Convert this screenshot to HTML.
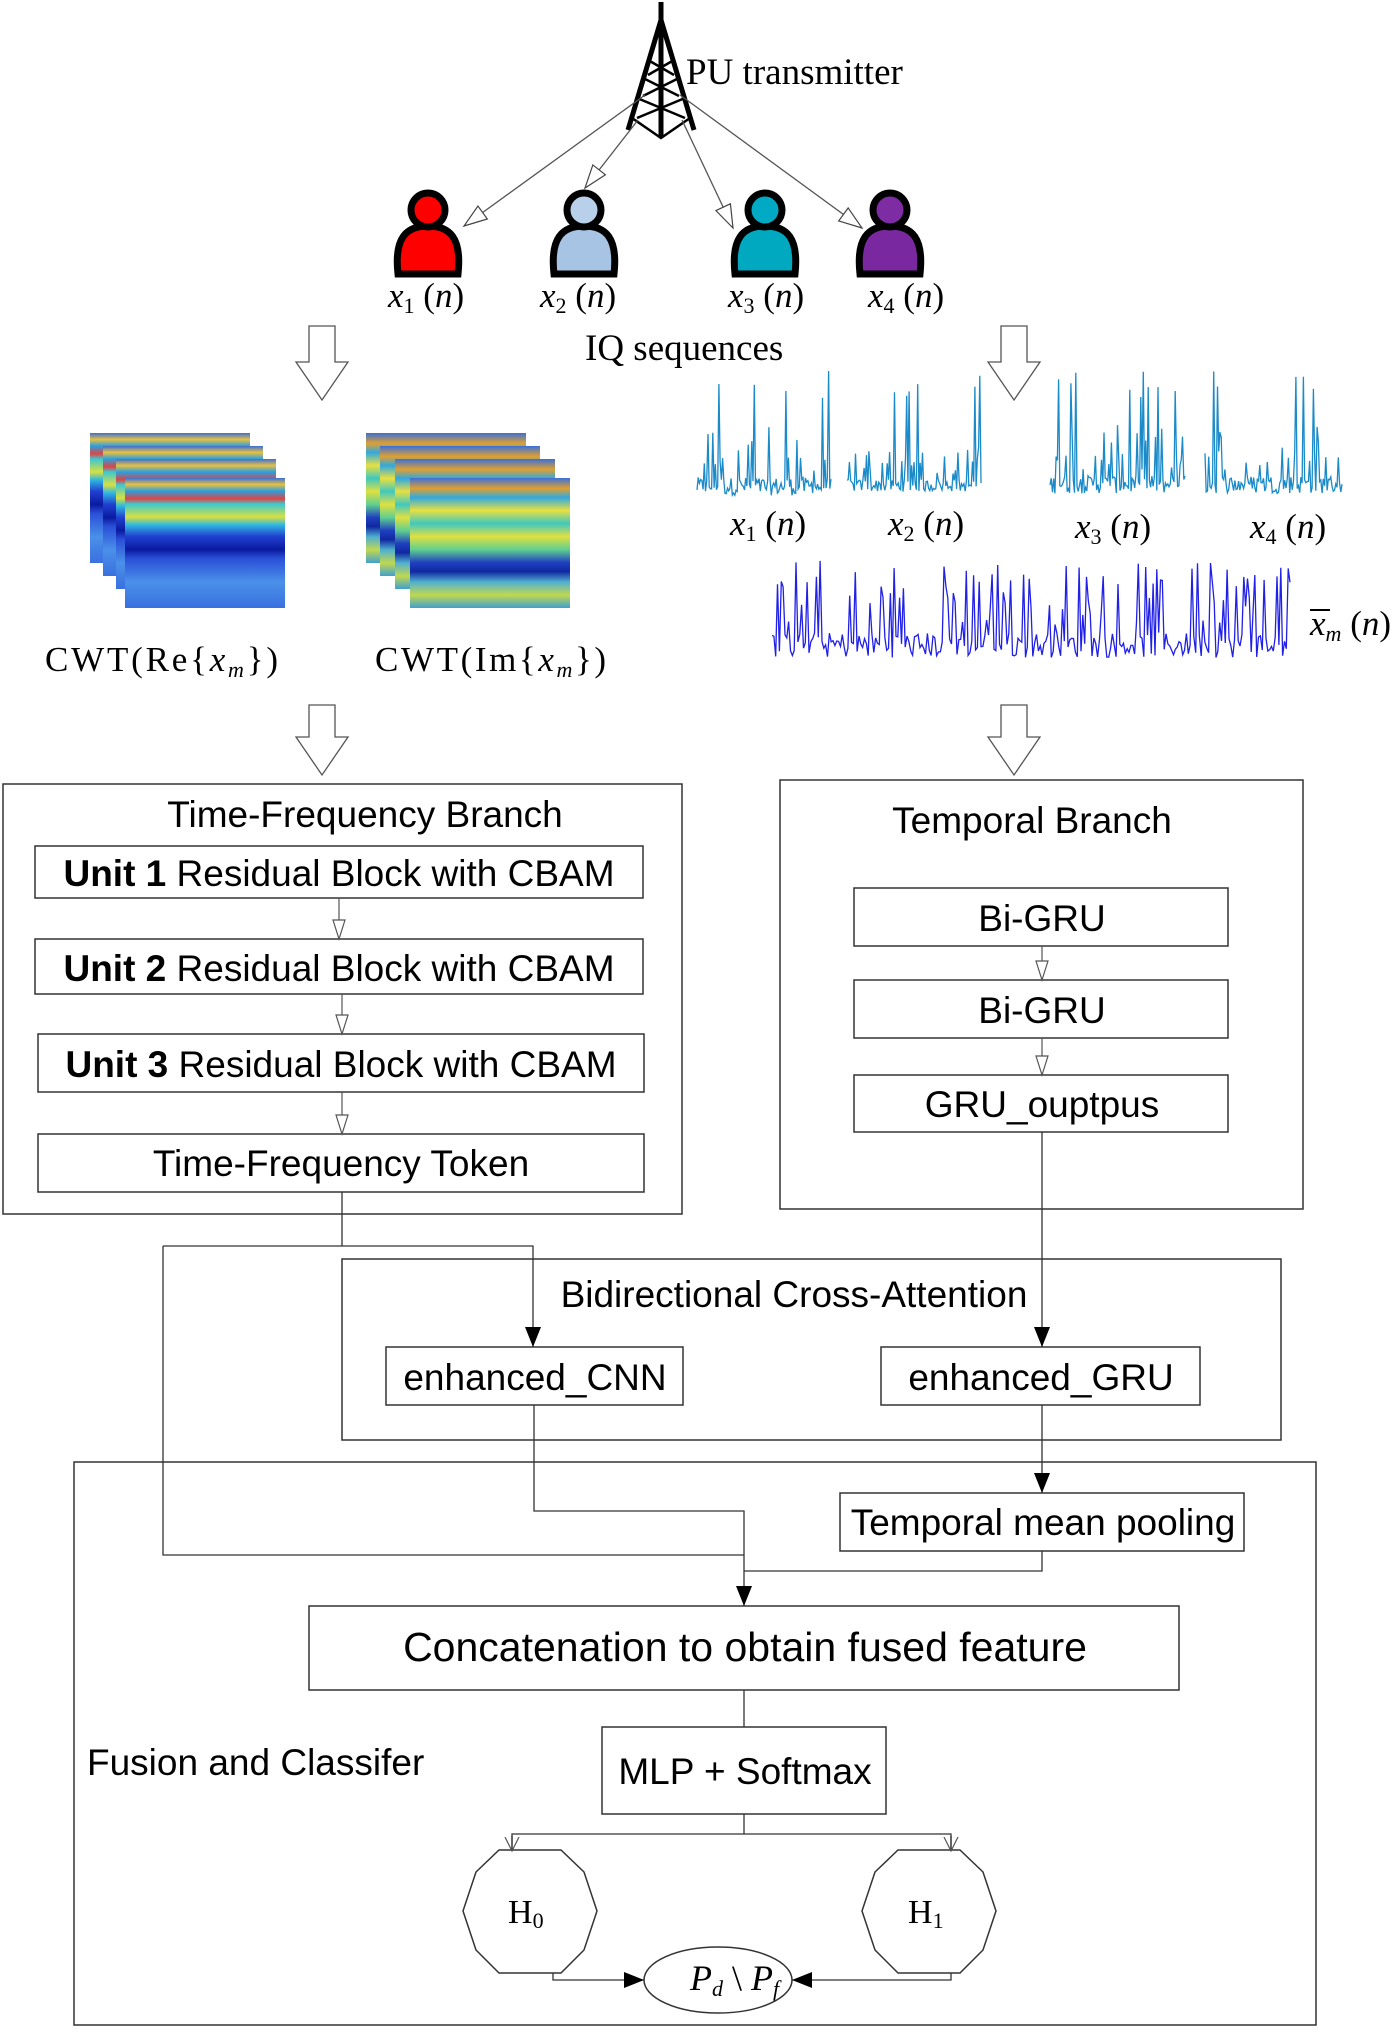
<!DOCTYPE html>
<html><head><meta charset="utf-8"><style>
html,body{margin:0;padding:0;background:#fff;}
svg text{font-family:"Liberation Sans",sans-serif;}
.s{font-family:"Liberation Serif",serif;}
</style></head><body>
<svg id="sv" width="1400" height="2028" viewBox="0 0 1400 2028" xmlns="http://www.w3.org/2000/svg">
<defs>
<marker id="fb" markerWidth="22" markerHeight="22" refX="20" refY="8" orient="auto" markerUnits="userSpaceOnUse" viewBox="0 0 22 16"><path d="M0,0 L20,8 L0,16 z" fill="#000"/></marker>
<marker id="ho" markerWidth="26" markerHeight="22" refX="24" refY="9" orient="auto" markerUnits="userSpaceOnUse" viewBox="0 0 26 18"><path d="M1,1 L24,9 L1,17 z" fill="#fff" stroke="#444" stroke-width="1.2"/></marker>
<marker id="hs" markerWidth="22" markerHeight="16" refX="20" refY="7" orient="auto" markerUnits="userSpaceOnUse" viewBox="0 0 22 14"><path d="M1,1 L20,7 L1,13 z" fill="#fff" stroke="#555" stroke-width="1.2"/></marker>
<marker id="vv" markerWidth="16" markerHeight="16" refX="14" refY="7" orient="auto" markerUnits="userSpaceOnUse" viewBox="0 0 16 14"><path d="M0,0 L14,7 L0,14" fill="none" stroke="#555" stroke-width="1.2"/></marker>
<linearGradient id="sp1" x1="0" y1="0" x2="0" y2="1">
<stop offset="0" stop-color="#3a6fd8"/><stop offset="0.05" stop-color="#e8c040"/><stop offset="0.1" stop-color="#2aa0e0"/><stop offset="0.16" stop-color="#d44"/><stop offset="0.2" stop-color="#3cc8d0"/><stop offset="0.3" stop-color="#d8e040"/><stop offset="0.36" stop-color="#30b8e0"/><stop offset="0.45" stop-color="#2040d0"/><stop offset="0.55" stop-color="#0a1aa0"/><stop offset="0.62" stop-color="#2a50d8"/><stop offset="0.8" stop-color="#4a90e8"/><stop offset="1" stop-color="#3a70e0"/></linearGradient>
<linearGradient id="sp2" x1="0" y1="0" x2="0" y2="1">
<stop offset="0" stop-color="#3a6fd8"/><stop offset="0.08" stop-color="#e0a030"/><stop offset="0.15" stop-color="#30a8e0"/><stop offset="0.25" stop-color="#e8e040"/><stop offset="0.35" stop-color="#40c8c0"/><stop offset="0.45" stop-color="#e0e040"/><stop offset="0.55" stop-color="#60d090"/><stop offset="0.65" stop-color="#2040c0"/><stop offset="0.72" stop-color="#1028a0"/><stop offset="0.8" stop-color="#50b0d0"/><stop offset="0.9" stop-color="#c0d850"/><stop offset="1" stop-color="#40a0d0"/></linearGradient>
</defs>

<!-- tower -->
<g stroke="#000" fill="none">
<line x1="661" y1="2" x2="661" y2="138" stroke-width="5"/>
<path d="M661,20 L628,130 M661,20 L694,130" stroke-width="5"/>
<path d="M648,60 L674,75 M674,60 L648,75 M643,78 L679,96 M679,78 L643,96 M637,98 L685,118 M685,98 L637,118 M632,118 L661,138 L690,118" stroke-width="2.5"/>
</g>
<text class="s" x="686" y="84" font-size="37">PU transmitter</text>
<g stroke="#555" stroke-width="1.3" fill="none">
<line x1="645" y1="95" x2="464" y2="226" marker-end="url(#ho)"/>
<line x1="638" y1="120" x2="585" y2="188" marker-end="url(#ho)"/>
<line x1="682" y1="120" x2="733" y2="228" marker-end="url(#ho)"/>
<line x1="680" y1="95" x2="862" y2="228" marker-end="url(#ho)"/>
</g>
<!-- users -->
<g stroke="#000" stroke-width="7">
<g transform="translate(428,230)"><path d="M-30,44 C-34,8 -22,-4 0,-4 C22,-4 34,8 30,44 Z" fill="#f00"/><circle cx="0" cy="-20" r="17" fill="#f00"/></g>
<g transform="translate(584,230)"><path d="M-30,44 C-34,8 -22,-4 0,-4 C22,-4 34,8 30,44 Z" fill="#a8c4e4"/><circle cx="0" cy="-20" r="17" fill="#b8d0ea"/></g>
<g transform="translate(765,230)"><path d="M-30,44 C-34,8 -22,-4 0,-4 C22,-4 34,8 30,44 Z" fill="#00a8c0"/><circle cx="0" cy="-20" r="17" fill="#00aac4"/></g>
<g transform="translate(890,230)"><path d="M-30,44 C-34,8 -22,-4 0,-4 C22,-4 34,8 30,44 Z" fill="#7a28a0"/><circle cx="0" cy="-20" r="17" fill="#7e2ca4"/></g>
</g>
<g class="s" font-size="35" font-style="italic">
<text class="s" x="388" y="307">x<tspan font-size="22" dy="6" font-style="normal">1</tspan><tspan dy="-6" font-style="normal"> (</tspan>n<tspan font-style="normal">)</tspan></text>
<text class="s" x="540" y="307">x<tspan font-size="22" dy="6" font-style="normal">2</tspan><tspan dy="-6" font-style="normal"> (</tspan>n<tspan font-style="normal">)</tspan></text>
<text class="s" x="728" y="307">x<tspan font-size="22" dy="6" font-style="normal">3</tspan><tspan dy="-6" font-style="normal"> (</tspan>n<tspan font-style="normal">)</tspan></text>
<text class="s" x="868" y="307">x<tspan font-size="22" dy="6" font-style="normal">4</tspan><tspan dy="-6" font-style="normal"> (</tspan>n<tspan font-style="normal">)</tspan></text>
</g>
<text class="s" x="585" y="360" font-size="37">IQ sequences</text>

<!-- big hollow arrows -->
<g fill="#fff" stroke="#555" stroke-width="1.3">
<path d="M309,326 L335,326 L335,362 L348,362 L322,400 L296,362 L309,362 Z"/>
<path d="M1001,326 L1027,326 L1027,362 L1040,362 L1014,400 L988,362 L1001,362 Z"/>
<path d="M309,705 L335,705 L335,737 L348,737 L322,775 L296,737 L309,737 Z"/>
<path d="M1001,705 L1027,705 L1027,737 L1040,737 L1014,775 L988,737 L1001,737 Z"/>
</g>

<!-- spectrograms -->
<g>
<rect x="90" y="433" width="160" height="130" fill="url(#sp1)"/>
<rect x="103" y="446" width="160" height="130" fill="url(#sp1)"/>
<rect x="116" y="459" width="160" height="130" fill="url(#sp1)"/>
<rect x="125" y="478" width="160" height="130" fill="url(#sp1)"/>
<rect x="366" y="433" width="160" height="130" fill="url(#sp2)"/>
<rect x="380" y="446" width="160" height="130" fill="url(#sp2)"/>
<rect x="395" y="459" width="160" height="130" fill="url(#sp2)"/>
<rect x="410" y="478" width="160" height="130" fill="url(#sp2)"/>
</g>
<text class="s" x="45" y="671" font-size="35" textLength="233" lengthAdjust="spacing">CWT(Re{<tspan font-style="italic">x</tspan><tspan font-size="22" font-style="italic" dy="6">m</tspan><tspan dy="-6">})</tspan></text>
<text class="s" x="375" y="671" font-size="35" textLength="231" lengthAdjust="spacing">CWT(Im{<tspan font-style="italic">x</tspan><tspan font-size="22" font-style="italic" dy="6">m</tspan><tspan dy="-6">})</tspan></text>

<!-- signals -->
<g id="sigs" fill="none" stroke-width="1.3"></g>
<g class="s" font-size="35" font-style="italic">
<text class="s" x="730" y="535">x<tspan font-size="22" dy="6" font-style="normal">1</tspan><tspan dy="-6" font-style="normal"> (</tspan>n<tspan font-style="normal">)</tspan></text>
<text class="s" x="888" y="535">x<tspan font-size="22" dy="6" font-style="normal">2</tspan><tspan dy="-6" font-style="normal"> (</tspan>n<tspan font-style="normal">)</tspan></text>
<text class="s" x="1075" y="538">x<tspan font-size="22" dy="6" font-style="normal">3</tspan><tspan dy="-6" font-style="normal"> (</tspan>n<tspan font-style="normal">)</tspan></text>
<text class="s" x="1250" y="538">x<tspan font-size="22" dy="6" font-style="normal">4</tspan><tspan dy="-6" font-style="normal"> (</tspan>n<tspan font-style="normal">)</tspan></text>
<text class="s" x="1310" y="635">x<tspan font-size="22" dy="6" font-style="italic">m</tspan><tspan dy="-6" font-style="normal"> (</tspan>n<tspan font-style="normal">)</tspan></text>
</g>
<line x1="1310" y1="610" x2="1330" y2="610" stroke="#000" stroke-width="2"/>

<!-- boxes -->
<g fill="#fff" stroke="#333" stroke-width="1.5">
<rect x="3" y="784" width="679" height="430"/>
<rect x="35" y="846" width="608" height="52"/>
<rect x="35" y="939" width="608" height="55"/>
<rect x="38" y="1034" width="606" height="58"/>
<rect x="38" y="1134" width="606" height="58"/>
<rect x="780" y="780" width="523" height="429"/>
<rect x="854" y="888" width="374" height="58"/>
<rect x="854" y="980" width="374" height="58"/>
<rect x="854" y="1075" width="374" height="57"/>
<rect x="342" y="1259" width="939" height="181"/>
<rect x="74" y="1462" width="1242" height="563" fill="none"/>
</g>
<g font-size="37" text-anchor="middle">
<text x="365" y="827">Time-Frequency Branch</text>
<text x="339" y="886"><tspan font-weight="bold">Unit 1</tspan> Residual Block with CBAM</text>
<text x="339" y="981"><tspan font-weight="bold">Unit 2</tspan> Residual Block with CBAM</text>
<text x="341" y="1077"><tspan font-weight="bold">Unit 3</tspan> Residual Block with CBAM</text>
<text x="341" y="1176">Time-Frequency Token</text>
<text x="1032" y="833">Temporal Branch</text>
<text x="1042" y="931">Bi-GRU</text>
<text x="1042" y="1023">Bi-GRU</text>
<text x="1042" y="1117">GRU_ouptpus</text>
<text x="794" y="1307">Bidirectional Cross-Attention</text>
</g>
<g stroke="#555" stroke-width="1.2">
<line x1="339" y1="898" x2="339" y2="939" marker-end="url(#hs)"/>
<line x1="342" y1="994" x2="342" y2="1034" marker-end="url(#hs)"/>
<line x1="342" y1="1092" x2="342" y2="1134" marker-end="url(#hs)"/>
<line x1="1042" y1="946" x2="1042" y2="980" marker-end="url(#hs)"/>
<line x1="1042" y1="1038" x2="1042" y2="1075" marker-end="url(#hs)"/>
</g>

<!-- lower boxes -->
<g fill="#fff" stroke="#333" stroke-width="1.5">
<rect x="386" y="1347" width="297" height="58"/>
<rect x="881" y="1347" width="319" height="58"/>
<rect x="840" y="1493" width="404" height="58"/>
<rect x="309" y="1606" width="870" height="84"/>
<rect x="602" y="1727" width="284" height="87"/>
<path d="M499,1850 L561,1850 L584,1872 L597,1911 L584,1950 L561,1973 L499,1973 L476,1950 L463,1911 L476,1872 Z"/>
<path d="M898,1850 L960,1850 L983,1872 L996,1911 L983,1950 L960,1973 L898,1973 L875,1950 L862,1911 L875,1872 Z"/>
<ellipse cx="718" cy="1980" rx="74" ry="33"/>
</g>
<g font-size="37" text-anchor="middle">
<text x="535" y="1390">enhanced_CNN</text>
<text x="1041" y="1390">enhanced_GRU</text>
<text x="1043" y="1535">Temporal mean pooling</text>
<text x="745" y="1661" font-size="41">Concatenation to obtain fused feature</text>
<text x="745" y="1784">MLP + Softmax</text>
</g>
<text x="87" y="1775" font-size="37">Fusion and Classifer</text>
<text class="s" x="508" y="1923" font-size="34">H<tspan font-size="22" dy="5">0</tspan></text>
<text class="s" x="908" y="1923" font-size="34">H<tspan font-size="22" dy="5">1</tspan></text>
<text class="s" x="690" y="1990" font-size="36" font-style="italic">P<tspan font-size="22" dy="6">d</tspan><tspan dy="-6" font-style="normal"> \ </tspan>P<tspan font-size="22" dy="6">f</tspan></text>

<!-- connectors -->
<g stroke="#333" stroke-width="1.3" fill="none">
<polyline points="342,1192 342,1246"/>
<polyline points="163,1246 533,1246 533,1347" marker-end="url(#fb)"/>
<polyline points="163,1246 163,1555 744,1555"/>
<polyline points="534,1405 534,1511 744,1511 744,1606" marker-end="url(#fb)"/>
<polyline points="1042,1132 1042,1347" marker-end="url(#fb)"/>
<polyline points="1042,1405 1042,1493" marker-end="url(#fb)"/>
<polyline points="1042,1551 1042,1571 744,1571"/>
<line x1="744" y1="1690" x2="744" y2="1727"/>
<line x1="744" y1="1814" x2="744" y2="1834"/>
<polyline points="512,1850 512,1834 951,1834 951,1850"/>
<polyline points="512,1836 512,1851" marker-end="url(#vv)"/>
<polyline points="951,1836 951,1851" marker-end="url(#vv)"/>
<polyline points="553,1973 553,1980 644,1980" marker-end="url(#fb)"/>
<polyline points="951,1973 951,1980 792,1980" marker-end="url(#fb)"/>
</g>
</svg>
<script>
(function(){
var s=12345;function r(){s=(s*1103515245+12345)%2147483648;return s/2147483648;}
var g=document.getElementById('sigs');
function sig(x0,x1,base,top,amp,n,col){
 var p=[];for(var i=0;i<=n;i++){var x=x0+(x1-x0)*i/n;var v=r();var y;
 if(v>0.93)y=top+r()*30;else if(v>0.75)y=base-amp*(1+r()*2.5);else y=base-r()*amp+amp*0.3;
 p.push(x.toFixed(1)+','+y.toFixed(1));}
 var pl=document.createElementNS('http://www.w3.org/2000/svg','polyline');
 pl.setAttribute('points',p.join(' '));pl.setAttribute('stroke',col);g.appendChild(pl);}
sig(697,831,490,370,18,110,'#1a8ac8');
sig(847,981,488,372,12,110,'#1a8ac8');
sig(1050,1185,488,368,18,110,'#1a8ac8');
sig(1205,1342,488,365,18,110,'#1a8ac8');
sig(772,1290,650,558,25,280,'#2020e8');
})();
</script>
</body></html>
